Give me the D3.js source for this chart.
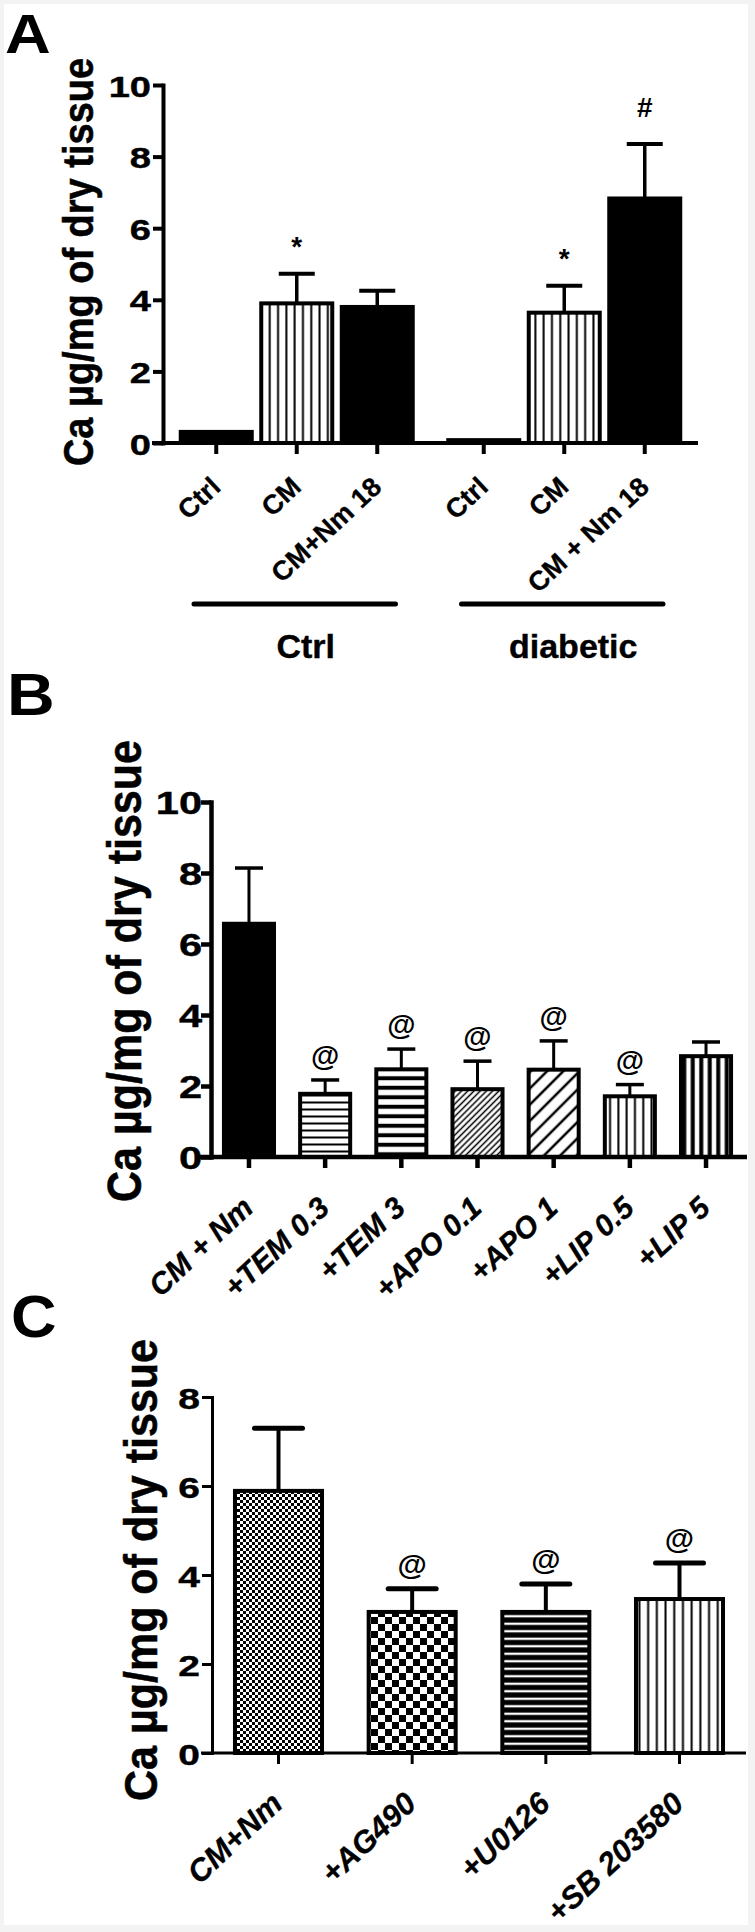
<!DOCTYPE html>
<html><head><meta charset="utf-8">
<script src="https://cdn.jsdelivr.net/npm/d3@7"></script>
<style>
html,body{margin:0;padding:0;background:#f3f3f3;}
svg{display:block;}
text{font-family:"Liberation Sans",Arial,sans-serif;font-weight:bold;fill:#000;}
</style></head><body>
<svg id="chart" width="755" height="1932"></svg>
<script>
// ---------- DATA ----------
const yTitle = "Ca µg/mg of dry tissue";

// Panel A
const categoriesA = ["Ctrl", "CM", "CM+Nm 18", "Ctrl", "CM", "CM + Nm 18"];
const groupOfA = ["Ctrl", "Ctrl", "Ctrl", "diabetic", "diabetic", "diabetic"];
const groupNamesA = ["Ctrl", "diabetic"];
const meansA = [0.31, 3.90, 3.80, 0.08, 3.64, 6.83];
const errorsA = [0, 0.83, 0.45, 0, 0.75, 1.52];
const fillsA = ["solid", "vA", "solid", "solid", "vA", "solid"];
const marksA = ["", "*", "", "", "*", "#"];
const ticksA = [0, 2, 4, 6, 8, 10];

// Panel B
const categoriesB = ["CM + Nm", "+TEM 0.3", "+TEM 3", "+APO 0.1", "+APO 1", "+LIP 0.5", "+LIP 5"];
const meansB = [6.57, 1.78, 2.47, 1.91, 2.46, 1.71, 2.84];
const errorsB = [1.57, 0.39, 0.57, 0.79, 0.81, 0.33, 0.40];
const fillsB = ["solid", "hFine", "hThick", "dFine", "dCoarse", "vFine", "vThick"];
const marksB = ["", "@", "@", "@", "@", "@", ""];
const ticksB = [0, 2, 4, 6, 8, 10];

// Panel C
const categoriesC = ["CM+Nm", "+AG490", "+U0126", "+SB 203580"];
const meansC = [5.89, 3.17, 3.17, 3.46];
const errorsC = [1.41, 0.52, 0.63, 0.81];
const fillsC = ["checkFine", "checkCoarse", "hWhite", "vC"];
const marksC = ["", "@", "@", "@"];
const ticksC = [0, 2, 4, 6, 8];

// ---------- SETUP ----------
const svg = d3.select("#chart");
svg.append("rect").attr("x", 4).attr("y", 4).attr("width", 744).attr("height", 1921).attr("fill", "#fff");
const defs = svg.append("defs");

function linePattern(id, size, lineW, orient, angle, bg, fg) {
  const p = defs.append("pattern").attr("id", id).attr("patternUnits", "userSpaceOnUse")
    .attr("width", size).attr("height", size);
  if (angle) p.attr("patternTransform", `rotate(${angle})`);
  p.append("rect").attr("width", size).attr("height", size).attr("fill", bg || "#fff");
  if (orient === "v") p.append("rect").attr("x", (size - lineW) / 2).attr("y", 0).attr("width", lineW).attr("height", size).attr("fill", fg || "#000");
  else p.append("rect").attr("x", 0).attr("y", (size - lineW) / 2).attr("width", size).attr("height", lineW).attr("fill", fg || "#000");
}
function checkPattern(id, cell) {
  const p = defs.append("pattern").attr("id", id).attr("patternUnits", "userSpaceOnUse")
    .attr("width", cell * 2).attr("height", cell * 2);
  p.append("rect").attr("width", cell * 2).attr("height", cell * 2).attr("fill", "#fff");
  p.append("rect").attr("width", cell).attr("height", cell).attr("fill", "#000");
  p.append("rect").attr("x", cell).attr("y", cell).attr("width", cell).attr("height", cell).attr("fill", "#000");
}
linePattern("vA", 8.3, 2, "v");
linePattern("hFine", 7, 2, "h");
linePattern("hThick", 9.5, 4, "h");
linePattern("dFine", 4.4, 1.5, "v", 45);
linePattern("dCoarse", 11.5, 2.5, "v", 45);
linePattern("vFine", 8.3, 2, "v");
linePattern("vThick", 8.5, 4, "v");
checkPattern("checkFine", 3);
checkPattern("checkCoarse", 7);
linePattern("hWhite", 7.5, 2.3, "h", 0, "#000", "#fff");
linePattern("vC", 8.7, 2, "v");

function drawPanel(cfg) {
  const g = svg.append("g");
  const n = cfg.cats.length;
  const idx = d3.range(n);
  const y = d3.scaleLinear().domain([0, cfg.yMax]).range([cfg.y0, cfg.y1]);

  // bars
  g.selectAll("rect.bar").data(idx).join("rect").attr("class", "bar")
    .attr("x", i => cfg.xc(i) - cfg.bw / 2)
    .attr("y", i => y(cfg.means[i]))
    .attr("width", cfg.bw)
    .attr("height", i => y(0) - y(cfg.means[i]))
    .attr("fill", i => cfg.fills[i] === "solid" ? "#000" : `url(#${cfg.fills[i]})`)
    .attr("stroke", "#000").attr("stroke-width", cfg.barStroke);

  // error bars
  const eIdx = idx.filter(i => cfg.errs[i] > 0);
  g.selectAll("line.stem").data(eIdx).join("line")
    .attr("x1", i => cfg.xc(i)).attr("x2", i => cfg.xc(i))
    .attr("y1", i => y(cfg.means[i])).attr("y2", i => y(cfg.means[i] + cfg.errs[i]))
    .attr("stroke", "#000").attr("stroke-width", cfg.stemW);
  g.selectAll("line.cap").data(eIdx).join("line")
    .attr("x1", i => cfg.xc(i) - cfg.capW / 2).attr("x2", i => cfg.xc(i) + cfg.capW / 2)
    .attr("y1", i => y(cfg.means[i] + cfg.errs[i])).attr("y2", i => y(cfg.means[i] + cfg.errs[i]))
    .attr("stroke", "#000").attr("stroke-width", cfg.capStroke).attr("stroke-linecap", cfg.capRound ? "round" : "butt");

  // annotations
  const offs = {"*": cfg.starOff, "#": cfg.hashOff, "@": cfg.atOff};
  g.selectAll("text.mark").data(idx.filter(i => cfg.marks[i])).join("text")
    .attr("x", i => cfg.xc(i))
    .attr("y", i => y(cfg.means[i] + cfg.errs[i]) - offs[cfg.marks[i]])
    .attr("text-anchor", "middle")
    .attr("font-size", i => cfg.marks[i] === "@" ? cfg.atFont : cfg.starFont)
    .text(i => cfg.marks[i]);

  // y axis
  const ax = g.append("g").attr("transform", `translate(${cfg.axisX},0)`)
    .call(d3.axisLeft(y).tickValues(cfg.ticks).tickSize(cfg.tickLen).tickSizeOuter(0).tickFormat(d3.format("d")));
  ax.attr("font-family", null).attr("font-size", cfg.tickFont);
  ax.select(".domain").attr("stroke-width", cfg.axisW).attr("stroke-linecap", "square");
  ax.selectAll(".tick line").attr("stroke-width", cfg.axisW);
  ax.selectAll(".tick text").attr("x", -cfg.labelGap / cfg.digitScale)
    .attr("dy", "0.37em").attr("transform", `scale(${cfg.digitScale},1)`).attr("fill", "#000")
    .attr("stroke", "#000").attr("stroke-width", 0.4);

  // x axis
  g.append("line").attr("x1", cfg.xStart).attr("x2", cfg.xEnd).attr("y1", y(0)).attr("y2", y(0))
    .attr("stroke", "#000").attr("stroke-width", cfg.axisW);
  g.selectAll("line.xt").data(idx).join("line")
    .attr("x1", i => cfg.xc(i)).attr("x2", i => cfg.xc(i))
    .attr("y1", y(0)).attr("y2", y(0) + cfg.tickLen + 1)
    .attr("stroke", "#000").attr("stroke-width", cfg.axisW);

  // x labels
  g.selectAll("text.xl").data(idx).join("text")
    .attr("transform", i => `translate(${cfg.xc(i) + cfg.lblDx},${y(0) + cfg.lblDy}) rotate(${cfg.lblAngle})`)
    .attr("text-anchor", "end")
    .attr("font-size", cfg.lblFont)
    .attr("font-style", cfg.italic ? "italic" : "normal")
    .attr("stroke", "#000").attr("stroke-width", 0.3)
    .text(i => cfg.cats[i]);

  // y title
  g.append("text")
    .attr("transform", `translate(${cfg.titleX},${cfg.titleY}) scale(${cfg.titleSx},1) rotate(-90)`)
    .attr("text-anchor", "middle").attr("font-size", cfg.titleFont)
    .attr("stroke", "#000").attr("stroke-width", 0.5)
    .text(yTitle);

  // panel letter
  g.append("text")
    .attr("transform", `translate(${cfg.letterX},${cfg.letterY}) scale(${cfg.letterSx},1)`)
    .attr("font-size", cfg.letterFont).text(cfg.letter);
  return {g, y};
}

// ---------- PANEL A ----------
const outerA = d3.scaleBand().domain(groupNamesA).range([163, 698]).paddingInner(0.0972).paddingOuter(0.0486);
const innerA = d3.scaleBand().domain([0, 1, 2]).range([0, outerA.bandwidth()]).paddingInner(0.118).paddingOuter(0.059);
const posA = categoriesA.map((c, i) => i - groupOfA.slice(0, i).filter(gn => gn !== groupOfA[i]).length);
const xcA = i => outerA(groupOfA[i]) + innerA(posA[i]) + innerA.bandwidth() / 2;

const pA = drawPanel({
  cats: categoriesA, means: meansA, errs: errorsA, fills: fillsA, marks: marksA, ticks: ticksA,
  yMax: 10, y0: 443, y1: 85, xc: xcA, bw: innerA.bandwidth(), barStroke: 4,
  stemW: 3.5, capW: 36, capStroke: 4, capRound: false,
  starOff: 18, hashOff: 27, atOff: 14, starFont: 28, atFont: 29,
  axisX: 163, tickLen: 10, axisW: 4, tickFont: 30, digitScale: 1.27, labelGap: 12,
  xStart: 152, xEnd: 698,
  lblDx: 6, lblDy: 46, lblAngle: -43, lblFont: 27, italic: false,
  titleX: 93, titleY: 262, titleSx: 1.1, titleFont: 38,
  letter: "A", letterX: 5, letterY: 53, letterSx: 1.15, letterFont: 55
});
// group bars & labels
groupNamesA.forEach(gn => {
  const x0 = outerA(gn), x1 = x0 + outerA.bandwidth();
  pA.g.append("line").attr("x1", x0 + 18).attr("x2", x1 - 22).attr("y1", 604).attr("y2", 604)
    .attr("stroke", "#000").attr("stroke-width", 5).attr("stroke-linecap", "round");
  pA.g.append("text").attr("x", (x0 + x1) / 2 + 9).attr("y", 658).attr("text-anchor", "middle")
    .attr("font-size", 34).attr("stroke", "#000").attr("stroke-width", 0.4).text(gn);
});

// ---------- PANEL B ----------
const xB = d3.scaleBand().domain(categoriesB).range([211, 744]).paddingInner(0.343).paddingOuter(0.17);
drawPanel({
  cats: categoriesB, means: meansB, errs: errorsB, fills: fillsB, marks: marksB, ticks: ticksB,
  yMax: 10, y0: 1157, y1: 802, xc: i => xB(categoriesB[i]) + xB.bandwidth() / 2, bw: xB.bandwidth(), barStroke: 4,
  stemW: 3, capW: 28, capStroke: 3.5, capRound: false,
  starOff: 18, hashOff: 27, atOff: 14, starFont: 28, atFont: 29,
  axisX: 211, tickLen: 10, axisW: 4.5, tickFont: 32, digitScale: 1.3, labelGap: 9,
  xStart: 200, xEnd: 747,
  lblDx: 6, lblDy: 53, lblAngle: -43, lblFont: 30, italic: true,
  titleX: 141, titleY: 971, titleSx: 1.1, titleFont: 43,
  letter: "B", letterX: 7, letterY: 715, letterSx: 1.12, letterFont: 59
});

// ---------- PANEL C ----------
const xC = d3.scaleBand().domain(categoriesC).range([212, 746]).paddingInner(0.349).paddingOuter(0.172);
drawPanel({
  cats: categoriesC, means: meansC, errs: errorsC, fills: fillsC, marks: marksC, ticks: ticksC,
  yMax: 8, y0: 1753, y1: 1397, xc: i => xC(categoriesC[i]) + xC.bandwidth() / 2, bw: xC.bandwidth(), barStroke: 4,
  stemW: 4, capW: 48, capStroke: 5, capRound: true,
  starOff: 18, hashOff: 27, atOff: 14, starFont: 28, atFont: 30,
  axisX: 212, tickLen: 10, axisW: 3, tickFont: 30, digitScale: 1.3, labelGap: 12,
  xStart: 201, xEnd: 746,
  lblDx: 6, lblDy: 53, lblAngle: -43, lblFont: 31, italic: true,
  titleX: 157, titleY: 1570, titleSx: 1.08, titleFont: 43,
  letter: "C", letterX: 11, letterY: 1337, letterSx: 1.05, letterFont: 60
});
</script>
</body></html>
